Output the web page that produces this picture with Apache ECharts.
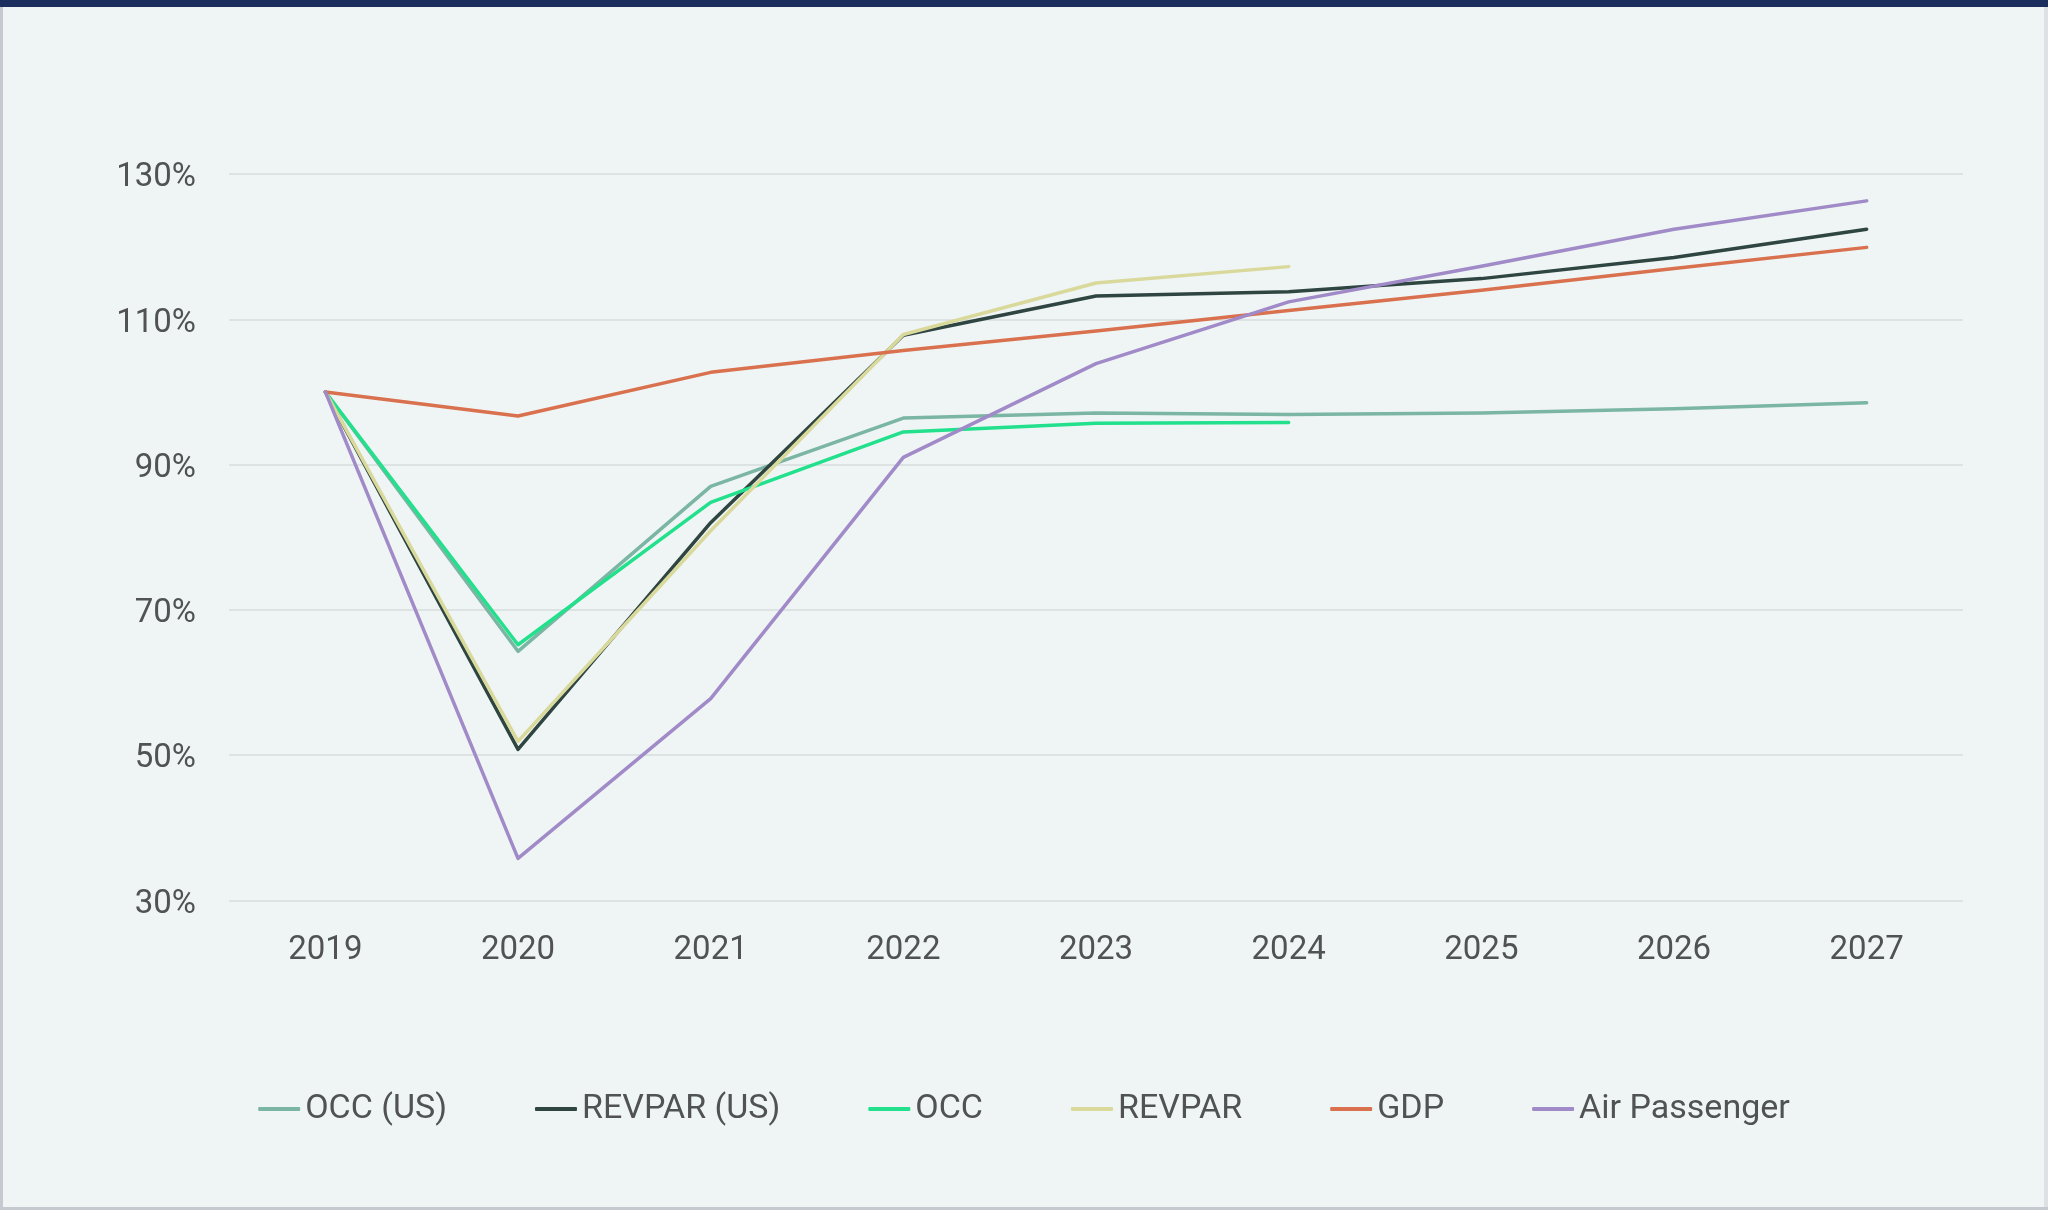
<!DOCTYPE html>
<html>
<head>
<meta charset="utf-8">
<script src="https://cdn.jsdelivr.net/npm/echarts@6/dist/echarts.min.js"></script>
<style>
  html, body { margin: 0; padding: 0; background: #eff5f5; }
  #chart { width: 2048px; height: 1210px; }
</style>
</head>
<body>
<div id="chart"></div>
<script>
const categories = ['2019', '2020', '2021', '2022', '2023', '2024', '2025', '2026', '2027'];
const occUS = [100, 64.3, 87.0, 96.4, 97.1, 96.9, 97.1, 97.7, 98.5];
const revparUS = [100, 50.8, 82.0, 107.8, 113.2, 113.8, 115.6, 118.5, 122.4];
const occ = [100, 65.2, 84.8, 94.5, 95.7, 95.8];
const revpar = [100, 51.9, 80.9, 107.9, 115.0, 117.25];
const gdp = [100, 96.7, 102.7, 105.7, 108.4, 111.2, 114.0, 117.0, 119.9];
const airPassenger = [100, 35.8, 57.8, 91.0, 103.9, 112.4, 117.3, 122.4, 126.3];
const yTicks = [30, 50, 70, 90, 110, 130];

const seriesDefs = [
  { name: 'OCC (US)', data: occUS, color: '#7bb5a3' },
  { name: 'REVPAR (US)', data: revparUS, color: '#2f4541' },
  { name: 'OCC', data: occ, color: '#22e08c' },
  { name: 'REVPAR', data: revpar, color: '#d9d99b' },
  { name: 'GDP', data: gdp, color: '#d9714f' },
  { name: 'Air Passenger', data: airPassenger, color: '#a08ac7' }
];

const textColor = '#505254';
const font = 'Roboto';

const chart = echarts.init(document.getElementById('chart'), null, { renderer: 'canvas' });
chart.setOption({
  animation: false,
  backgroundColor: '#eff5f5',
  graphic: [
    { type: 'rect', left: 0, top: 0, shape: { width: 2048, height: 7 }, style: { fill: '#1b2e5e' }, z: 100 },
    { type: 'rect', left: 0, top: 0, shape: { width: 3, height: 1210 }, style: { fill: '#c6cad0' }, z: 99 },
    { type: 'rect', left: 0, top: 1207, shape: { width: 2048, height: 3 }, style: { fill: '#c6cad0' }, z: 99 },
    { type: 'rect', left: 2044, top: 0, shape: { width: 4, height: 1210 }, style: { fill: '#dde1e4' }, z: 98 }
  ],
  grid: { left: 229, right: 85, top: 174, bottom: 309.5, containLabel: false },
  legend: {
    left: 'center',
    top: 1092,
    padding: 0,
    itemGap: 88,
    itemWidth: 42,
    itemHeight: 4,
    icon: 'roundRect',
    textStyle: { fontFamily: font, fontSize: 34, color: textColor },
    data: seriesDefs.map(s => s.name)
  },
  xAxis: {
    type: 'category',
    data: categories,
    boundaryGap: true,
    axisLine: { show: false },
    axisTick: { show: false },
    axisLabel: { fontFamily: font, fontSize: 33, color: textColor, margin: 34 },
    splitLine: { show: false }
  },
  yAxis: {
    type: 'value',
    min: yTicks[0],
    max: yTicks[yTicks.length - 1],
    interval: 20,
    axisLine: { show: false },
    axisTick: { show: false },
    axisLabel: {
      fontFamily: font, fontSize: 33, color: textColor, margin: 33,
      formatter: function (v) { return '{a|' + v + '%}'; },
      rich: { a: { fontFamily: font, fontSize: 33, color: textColor, padding: [8, 0, 0, 0] } }
    },
    splitLine: { lineStyle: { color: '#d7dcdd', width: 1.5 } }
  },
  series: seriesDefs.map(s => ({
    name: s.name,
    type: 'line',
    data: s.data,
    symbol: 'none',
    showSymbol: false,
    color: s.color,
    lineStyle: { color: s.color, width: 3.5, cap: 'round', join: 'round' },
    itemStyle: { color: s.color },
    emphasis: { disabled: true }
  }))
});
</script>
</body>
</html>
